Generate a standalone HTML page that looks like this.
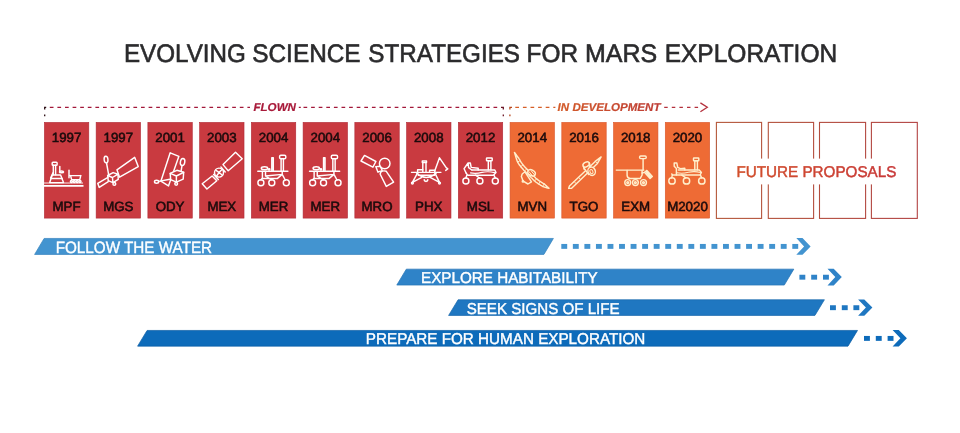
<!DOCTYPE html>
<html lang="en"><head><meta charset="utf-8"><title>Evolving Science Strategies for Mars Exploration</title>
<style>
html,body{margin:0;padding:0;background:#fff;}
body{width:960px;height:433px;overflow:hidden;font-family:"Liberation Sans",Arial,Helvetica,sans-serif;}
svg{display:block;}
svg text{font-family:"Liberation Sans",Arial,Helvetica,sans-serif;text-rendering:geometricPrecision;}
.ic{fill:none;stroke:#fff;stroke-width:1.45;stroke-linecap:round;stroke-linejoin:round;}
.yr{font-size:13.3px;fill:#1c0b0c;stroke:#1c0b0c;stroke-width:0.55px;text-anchor:middle;}
.bar{font-size:15px;fill:#fff;}
</style></head><body>
<svg width="960" height="433" viewBox="0 0 960 433">
<defs>
<linearGradient id="gdev" gradientUnits="userSpaceOnUse" x1="545" y1="0" x2="690" y2="0"><stop offset="0" stop-color="#d65f28"/><stop offset="1" stop-color="#b8343a"/></linearGradient>
<linearGradient id="gfut" gradientUnits="userSpaceOnUse" x1="716" y1="0" x2="917" y2="0"><stop offset="0" stop-color="#b4583a"/><stop offset="1" stop-color="#b24242"/></linearGradient>
<linearGradient id="gfutt" gradientUnits="userSpaceOnUse" x1="737" y1="0" x2="896" y2="0"><stop offset="0" stop-color="#d24f2b"/><stop offset="1" stop-color="#c83838"/></linearGradient>
</defs>
<rect width="960" height="433" fill="#fff"/>
<text y="62" font-size="25.3" fill="#2b2b2d" stroke="#2b2b2d" stroke-width="0.6"><tspan x="123.97" textLength="121.81" lengthAdjust="spacingAndGlyphs">EVOLVING</tspan> <tspan x="252.29" textLength="108.27" lengthAdjust="spacingAndGlyphs">SCIENCE</tspan> <tspan x="368.34" textLength="151.66" lengthAdjust="spacingAndGlyphs">STRATEGIES</tspan> <tspan x="526.58" textLength="51.41" lengthAdjust="spacingAndGlyphs">FOR</tspan> <tspan x="585.03" textLength="72.16" lengthAdjust="spacingAndGlyphs">MARS</tspan> <tspan x="664.63" textLength="172.59" lengthAdjust="spacingAndGlyphs">EXPLORATION</tspan></text>
<g fill="none" stroke-width="1.15">
<path d="M49.8 107.3H250" stroke="#a3183a" stroke-dasharray="3.7 3.9"/>
<path d="M298.8 107.3H300.8M303.5 107.3H497.5" stroke="#a3183a" stroke-dasharray="3.7 3.9"/>
<path d="M44.7 109.4V107.3H46.2M44.7 114.4V116.3" stroke="#2a0c12" stroke-width="1.3"/>
<path d="M501 107.3H503.3V109.4M503.3 114.4V116.3" stroke="#6a1424" stroke-width="1.3"/>
<path d="M512 107.3H509.9V109.4M509.9 114.4V116.3" stroke="#b8481e" stroke-width="1.3"/>
<path d="M515.3 107.3H555.4" stroke="url(#gdev)" stroke-dasharray="3.7 3.9"/>
<path d="M664.2 107.3H699" stroke="#b4303c" stroke-dasharray="3.5 4.1"/>
<path d="M700.4 102.9L707.3 107.3L700.4 111.7" stroke="#b4303c" stroke-width="1.3" stroke-linejoin="miter"/>
</g>
<text x="253.41" y="111.3" font-size="11.4" fill="#a81a3a" stroke="#a81a3a" stroke-width="0.2" textLength="42.6" lengthAdjust="spacingAndGlyphs" font-weight="bold" font-style="italic">FLOWN</text>
<text x="557.61" y="111.3" font-size="11.4" fill="url(#gdev)" stroke="url(#gdev)" stroke-width="0.2" textLength="102.89" lengthAdjust="spacingAndGlyphs" font-weight="bold" font-style="italic">IN DEVELOPMENT</text>
<rect x="44.40" y="122.39999999999999" width="44.4" height="95.7" fill="#c93a40" stroke="#b02a36" stroke-width="0.6"/>
<rect x="96.14" y="122.39999999999999" width="44.4" height="95.7" fill="#c93a40" stroke="#b02a36" stroke-width="0.6"/>
<rect x="147.88" y="122.39999999999999" width="44.4" height="95.7" fill="#c93a40" stroke="#b02a36" stroke-width="0.6"/>
<rect x="199.62" y="122.39999999999999" width="44.4" height="95.7" fill="#c93a40" stroke="#b02a36" stroke-width="0.6"/>
<rect x="251.36" y="122.39999999999999" width="44.4" height="95.7" fill="#c93a40" stroke="#b02a36" stroke-width="0.6"/>
<rect x="303.10" y="122.39999999999999" width="44.4" height="95.7" fill="#c93a40" stroke="#b02a36" stroke-width="0.6"/>
<rect x="354.84" y="122.39999999999999" width="44.4" height="95.7" fill="#c93a40" stroke="#b02a36" stroke-width="0.6"/>
<rect x="406.58" y="122.39999999999999" width="44.4" height="95.7" fill="#c93a40" stroke="#b02a36" stroke-width="0.6"/>
<rect x="458.32" y="122.39999999999999" width="44.4" height="95.7" fill="#c93a40" stroke="#b02a36" stroke-width="0.6"/>
<rect x="510.06" y="122.39999999999999" width="44.4" height="95.7" fill="#ee6b35" stroke="#d9552a" stroke-width="0.6"/>
<rect x="561.80" y="122.39999999999999" width="44.4" height="95.7" fill="#ee6b35" stroke="#d9552a" stroke-width="0.6"/>
<rect x="613.54" y="122.39999999999999" width="44.4" height="95.7" fill="#ee6b35" stroke="#d9552a" stroke-width="0.6"/>
<rect x="665.28" y="122.39999999999999" width="44.4" height="95.7" fill="#ee6b35" stroke="#d9552a" stroke-width="0.6"/>
<rect x="716.4" y="122.4" width="45.2" height="96" fill="none" stroke="url(#gfut)" stroke-width="1.1"/>
<rect x="768.3" y="122.4" width="45.3" height="96" fill="none" stroke="url(#gfut)" stroke-width="1.1"/>
<rect x="819.5" y="122.4" width="46.1" height="96" fill="none" stroke="url(#gfut)" stroke-width="1.1"/>
<rect x="871.4" y="122.4" width="45.9" height="96" fill="none" stroke="url(#gfut)" stroke-width="1.1"/>
<rect x="731" y="158.6" width="172" height="25.8" fill="#fff"/>
<text x="736.47" y="176.6" font-size="15.6" fill="url(#gfutt)" stroke="url(#gfutt)" stroke-width="0.45" textLength="159.86" lengthAdjust="spacingAndGlyphs">FUTURE PROPOSALS</text>
<text class="yr" x="66.60" y="141.6">1997</text><text class="yr" x="66.60" y="211.3">MPF</text>
<text class="yr" x="118.34" y="141.6">1997</text><text class="yr" x="118.34" y="211.3">MGS</text>
<text class="yr" x="170.08" y="141.6">2001</text><text class="yr" x="170.08" y="211.3">ODY</text>
<text class="yr" x="221.82" y="141.6">2003</text><text class="yr" x="221.82" y="211.3">MEX</text>
<text class="yr" x="273.56" y="141.6">2004</text><text class="yr" x="273.56" y="211.3">MER</text>
<text class="yr" x="325.30" y="141.6">2004</text><text class="yr" x="325.30" y="211.3">MER</text>
<text class="yr" x="377.04" y="141.6">2006</text><text class="yr" x="377.04" y="211.3">MRO</text>
<text class="yr" x="428.78" y="141.6">2008</text><text class="yr" x="428.78" y="211.3">PHX</text>
<text class="yr" x="480.52" y="141.6">2012</text><text class="yr" x="480.52" y="211.3">MSL</text>
<text class="yr" x="532.26" y="141.6">2014</text><text class="yr" x="532.26" y="211.3">MVN</text>
<text class="yr" x="584.00" y="141.6">2016</text><text class="yr" x="584.00" y="211.3">TGO</text>
<text class="yr" x="635.74" y="141.6">2018</text><text class="yr" x="635.74" y="211.3">EXM</text>
<text class="yr" x="687.48" y="141.6">2020</text><text class="yr" x="687.48" y="211.3">M2020</text>
<g class="ic" transform="translate(44.00 0)">
<path d="M0 183H39" stroke-width="0.9" stroke-linecap="butt"/>
<path d="M0 185.9H39.5" stroke-width="1.7" stroke-linecap="butt"/>
<rect x="8.2" y="162.3" width="4.9" height="2.9" rx="0.8"/>
<path d="M9.3 165.2V174.8M11.6 165.2V174.8"/>
<path d="M8.3 175H16.6L19.5 182.6H5.7Z"/>
<path d="M7 178.4H18.2M9 172.8L6.6 178"/>
<path d="M15.8 166.4V171.6"/>
<ellipse cx="17.5" cy="171.9" rx="2.1" ry="0.9"/>
<path d="M25 170.1V177.8M25 175.6H37M26.6 175.6L27.6 179.6H35.8L36.8 175.6"/>
<circle cx="27.4" cy="181.4" r="1"/><circle cx="30.3" cy="181.4" r="1"/><circle cx="33.2" cy="181.4" r="1"/><circle cx="36" cy="181.4" r="1"/>
</g>
<g class="ic" transform="translate(95.64 0)">
<ellipse cx="10.4" cy="159.6" rx="1.9" ry="3.3" transform="rotate(-6 10.4 159.6)"/>
<path d="M10.9 163L13 174.6"/>
<path d="M21.3 169.8L39 157.3L42.6 166.6L23.9 177.2Z"/>
<path d="M12 175.5L17.5 172.6L22.4 174.2L16.8 177.5ZM12 175.5L12.6 180.7L17.3 182.6L16.8 177.5M17.3 182.6L22.6 179.4L22.4 174.2"/>
<path d="M12.3 177.4L2.1 183.3L3.6 187.4L12.6 181.6"/>
<circle cx="18.7" cy="183.9" r="1.4"/>
</g>
<g class="ic" transform="translate(147.28 0)">
<path d="M22.9 152.8L31.6 156.3L21.2 185.9L13.6 181.2Z"/>
<path d="M11.4 181.4L22.6 179.2"/>
<ellipse cx="9.3" cy="181.8" rx="2.1" ry="1.5"/>
<path d="M22.9 173.4L29.6 170.3L36.4 172.3L35.9 179.1L29.1 182.2L23.4 179.6Z" fill="#c93a40"/>
<path d="M22.9 173.4L29.1 176L36.4 172.3M29.1 176V182.2"/>
<ellipse cx="35.3" cy="162" rx="2.2" ry="3.6" transform="rotate(10 35.3 162)"/>
<path d="M34.7 165.6L33.8 171.4"/>
<circle cx="28.9" cy="183.8" r="1.4"/>
</g>
<g class="ic" transform="translate(199.62 0)">
<path d="M23.4 164.6L35.9 152.3L42.6 158.8L28.6 170.8Z"/>
<path d="M2.6 183.8L12.5 176L17.2 180.7L7.3 189Z"/>
<path d="M21.3 167L25.6 171.9M14 174.4L18.7 179.6"/>
<circle cx="19.4" cy="172.6" r="4.5"/>
<path d="M16.2 170.2L22.6 175M22.4 169.6L19.4 172.6L17 176"/>
</g>
<g class="ic" transform="translate(251.00 0)">
<path d="M6.8 171.3H36.9" stroke-width="1.5"/>
<rect x="28.6" y="155.2" width="6.2" height="3.6" rx="1.3"/>
<path d="M30.1 158.8V170.8M32.4 158.8V170.8"/>
<path d="M20.8 170.5V157.8H22.3V170.5"/>
<ellipse cx="13.5" cy="168.2" rx="3.2" ry="1.5"/>
<circle cx="18.2" cy="169.4" r="0.7"/>
<path d="M11.4 171.5V178L9.9 180M14.5 171.5V176L31.2 174.4L34.3 180M31.2 171.5V174.4M14.5 176L20.8 179.8M12 178.4H26.5L31.2 174.4"/>
<circle cx="9.9" cy="182.7" r="3"/><circle cx="20.8" cy="182.7" r="3"/><circle cx="35.3" cy="182.7" r="3"/>
</g>
<g class="ic" transform="translate(302.74 0)">
<path d="M6.8 171.3H36.9" stroke-width="1.5"/>
<rect x="28.6" y="155.2" width="6.2" height="3.6" rx="1.3"/>
<path d="M30.1 158.8V170.8M32.4 158.8V170.8"/>
<path d="M20.8 170.5V157.8H22.3V170.5"/>
<ellipse cx="13.5" cy="168.2" rx="3.2" ry="1.5"/>
<circle cx="18.2" cy="169.4" r="0.7"/>
<path d="M11.4 171.5V178L9.9 180M14.5 171.5V176L31.2 174.4L34.3 180M31.2 171.5V174.4M14.5 176L20.8 179.8M12 178.4H26.5L31.2 174.4"/>
<circle cx="9.9" cy="182.7" r="3"/><circle cx="20.8" cy="182.7" r="3"/><circle cx="35.3" cy="182.7" r="3"/>
</g>
<g class="ic" transform="translate(354.60 0)">
<path d="M9.9 155.4L21.3 161.5L18.3 167.2L6.4 161Z"/>
<circle cx="30.1" cy="163.5" r="5.3"/>
<path d="M25.5 174L26.5 171.6Q29 170.3 31.7 171.3L39 182.2L31.7 186.4Z"/>
<path d="M21.2 166.6L25.6 166.2L27.6 170.4L23.4 172.2Z"/>
</g>
<g class="ic" transform="translate(406.20 0)">
<path d="M5.2 172.3H34.8" stroke-width="1.2"/>
<path d="M16.6 171.8V162.6H19.8V171.8M16.1 162.6V160.9H20.3V162.6Z"/>
<path d="M11.4 171.8V169.8H16.6M23.4 172V170.3H28.6V172"/>
<path d="M28.6 170.8L33.3 157.8L40 167.7L41.6 168.9L39.5 170.4"/>
<path d="M10.4 172.9Q20 182 30.1 172.9M12 175.2H28.4"/>
<path d="M11.4 172.9L6.2 182.4L15.6 177.3M28.6 172.9L33.3 182.4L23.9 177.3"/>
<circle cx="6.2" cy="183" r="0.9"/><circle cx="33.3" cy="183" r="0.9"/>
<path d="M18 179.6A1.8 1.8 0 0 0 21.6 179.6"/>
</g>
<g class="ic" transform="translate(458.00 0)">
<path d="M30.3 169.8V160.8H32.9V169.8"/>
<rect x="28.5" y="158" width="5.7" height="2.8" rx="0.5"/>
<path d="M14 170H36.8L38 172.6L35.4 175.2H9.6L8.2 173.2"/>
<path d="M12.5 172.9Q18 174 24 172.4Q30 171 36.5 172.6" stroke-width="1.1"/>
<path d="M10.1 163H12.3L13.2 167.4L20.2 168.3V170M10.1 163L6.1 168.7L8.2 173.2M10.1 163L10.6 167.6L13.8 170"/>
<path d="M8.8 175.2L7.9 178M17.5 175.2L21.5 178M36 175.2L37.3 178"/>
<circle cx="7.9" cy="181" r="3"/><circle cx="21.9" cy="181" r="3"/><circle cx="37.3" cy="181" r="3"/>
</g>
<g class="ic" transform="translate(509.56 0)"><g stroke="#ffefcc">
<path d="M11.8 176.6L12.6 174L15.4 171.8L21.9 181.8L18.4 184L13.6 181.2Z"/>
<circle cx="13.4" cy="181.4" r="0.7"/>
<path d="M4.9 152.4L5.1 153.0L5.3 153.6L5.4 154.1L5.6 154.7L5.8 155.3L6.0 155.9L6.1 156.5L6.3 157.1L6.5 157.7L6.7 158.3L6.9 158.9L7.1 159.5L7.3 160.1L7.5 160.7L7.7 161.4L8.1 162.0L8.4 162.6L8.7 163.2L9.1 163.8L9.5 164.4L9.9 165.0L10.3 165.6L10.8 166.1L11.2 166.7L11.7 167.2L12.1 167.8L12.6 168.3L13.1 168.8L13.5 169.3L14.0 169.9L14.5 170.4L15.0 171.0L15.6 171.5L16.1 172.1L16.6 172.6L17.2 173.1L17.7 173.7L18.3 174.2L18.8 174.8L19.4 175.3L19.9 175.9L20.5 176.5L21.1 177.1L21.7 177.7L22.4 178.3L23.0 179.0L23.6 179.6L24.2 180.1L24.8 180.7L25.4 181.2L25.9 181.7L26.4 182.1L27.0 182.5L27.5 182.8L27.9 183.2L28.4 183.5L28.9 183.8L29.4 184.1L29.8 184.4L30.3 184.7L30.8 185.0L31.3 185.4L31.9 185.7L32.4 186.0L32.9 186.3L33.4 186.6L34.0 186.8L34.5 186.9L35.0 187.1L35.5 187.3L36.0 187.4L36.4 187.5L36.8 187.7L37.2 187.8L37.6 187.9L37.9 187.9L38.3 188.0L38.6 188.1L39.0 188.2L39.4 188.3L39.2 188.1L38.9 187.8L38.6 187.6L38.4 187.3L38.1 187.0L37.8 186.8L37.5 186.5L37.2 186.2L36.9 185.9L36.6 185.6L36.2 185.3L35.8 184.9L35.4 184.6L35.0 184.2L34.5 183.9L34.0 183.6L33.5 183.3L33.0 183.0L32.5 182.7L32.0 182.4L31.5 182.0L31.0 181.7L30.6 181.4L30.1 181.2L29.7 180.9L29.2 180.6L28.8 180.2L28.3 179.9L27.9 179.5L27.4 179.1L26.9 178.7L26.3 178.2L25.7 177.6L25.2 177.1L24.6 176.5L24.0 175.8L23.3 175.2L22.7 174.6L22.1 174.0L21.6 173.4L21.0 172.9L20.4 172.3L19.9 171.8L19.4 171.2L18.8 170.7L18.3 170.1L17.8 169.6L17.3 169.1L16.8 168.6L16.3 168.1L15.8 167.5L15.3 167.0L14.9 166.5L14.4 166.0L14.0 165.5L13.5 165.0L13.1 164.4L12.7 163.9L12.4 163.4L12.0 162.9L11.6 162.4L11.3 161.9L11.0 161.3L10.7 160.8L10.4 160.2L10.1 159.6L9.7 159.1L9.4 158.5L9.0 158.0L8.6 157.5L8.2 157.0L7.8 156.5L7.5 156.0L7.1 155.5L6.8 155.0L6.4 154.5L6.1 154.0L5.7 153.5L5.3 153.0L5.0 152.5Z" fill="#ee6b35"/>
<path d="M8.1 162.0L10.6 160.6M11.2 166.7L13.4 164.8M15.0 171.0L17.1 169.0M25.1 180.9L27.0 178.8M29.1 184.0L30.7 181.5M33.2 186.4L34.6 183.9" stroke-width="0.9"/>
<ellipse cx="22" cy="172.8" rx="4" ry="2.7" transform="rotate(30 22 172.8)" fill="#ee6b35"/>
<path d="M19.4 171.6L23.6 176.6M21.6 170.8L25.2 175.2" stroke-width="1"/>
</g></g>
<g class="ic" transform="translate(561.24 0)"><g stroke="#ffefcc">
<path d="M7.4 188.4L8.2 186L34 161.4L39.9 156.9L36.2 163.4L10.4 188.2Z"/>
<path d="M34 161.4L36.2 163.4M13 181.6L14.8 183.6M17.4 177.4L19.2 179.4" stroke-width="0.9"/>
<path d="M22.4 167.4L27 164.6L31.6 170.4L27.4 174.6Z" fill="#ee6b35"/>
<ellipse cx="30.4" cy="171.2" rx="3.6" ry="4.3" transform="rotate(-25 30.4 171.2)" fill="#ee6b35"/>
<ellipse cx="30.2" cy="171.6" rx="1.4" ry="2.2" transform="rotate(-25 30.2 171.6)" stroke-width="1"/>
<ellipse cx="25" cy="164.4" rx="3.5" ry="2.3" transform="rotate(-28 25 164.4)" fill="#ee6b35"/>
<path d="M22.2 166.4L23 169.4M27.8 163L29 166"/>
</g></g>
<g class="ic" transform="translate(613.30 0)"><g stroke="#ffefcc">
<path d="M2.9 170.1H30.6" stroke-width="1.2"/>
<path d="M29.8 158.6V169.8"/>
<rect x="26.3" y="156" width="6.6" height="2.6" rx="1.1"/>
<path d="M13.8 170.4V175.4Q14 178.4 17 178.4H27L28.8 175V170.4"/>
<path d="M31.4 172.4L33.6 170.4L39 176.4L36.8 178.4ZM32.6 171.6L37.8 177.4"/>
<path d="M28.8 173L31.4 172.4"/>
<circle cx="14.4" cy="182.5" r="2.9"/><circle cx="22.1" cy="182.5" r="2.9"/><circle cx="30.2" cy="182.5" r="2.9"/>
<circle cx="14.4" cy="182.5" r="0.9"/><circle cx="22.1" cy="182.5" r="0.9"/><circle cx="30.2" cy="182.5" r="0.9"/>
</g></g>
<g class="ic" transform="translate(664.40 -0.1)"><g stroke="#ffefcc">
<path d="M30.4 169.8V160.8H33V169.8"/>
<rect x="29.1" y="158.1" width="5.3" height="2.7" rx="0.5"/>
<path d="M14 170H34.8L37 172.6L35.6 175.2H8L7.4 174"/>
<path d="M12.5 172.9Q18 174 24 172.4Q30 171 36 172.6" stroke-width="1.1"/>
<path d="M9.8 163H12.4L13.3 167.4L16 168.7L20.4 168.3V170M9.8 163V166.4L12 168.6V175"/>
<path d="M8 175.2L7.2 178M17.5 175.2L21.5 178M36 175.2L37.3 178"/>
<circle cx="7.6" cy="181" r="3.2"/><circle cx="22.1" cy="181" r="3.2"/><circle cx="37.4" cy="181" r="3.2"/>
</g></g>
<path d="M44.1 238.45H553.4L543.9 254.45000000000002H34.6Z" fill="#4394d0" stroke="#3583bd" stroke-width="0.7"/>
<rect x="561.30" y="243.95" width="5.9" height="4.9" fill="#4394d0"/><rect x="572.85" y="243.95" width="5.9" height="4.9" fill="#4394d0"/><rect x="584.40" y="243.95" width="5.9" height="4.9" fill="#4394d0"/><rect x="595.95" y="243.95" width="5.9" height="4.9" fill="#4394d0"/><rect x="607.50" y="243.95" width="5.9" height="4.9" fill="#4394d0"/><rect x="619.05" y="243.95" width="5.9" height="4.9" fill="#4394d0"/><rect x="630.60" y="243.95" width="5.9" height="4.9" fill="#4394d0"/><rect x="642.15" y="243.95" width="5.9" height="4.9" fill="#4394d0"/><rect x="653.70" y="243.95" width="5.9" height="4.9" fill="#4394d0"/><rect x="665.25" y="243.95" width="5.9" height="4.9" fill="#4394d0"/><rect x="676.80" y="243.95" width="5.9" height="4.9" fill="#4394d0"/><rect x="688.35" y="243.95" width="5.9" height="4.9" fill="#4394d0"/><rect x="699.90" y="243.95" width="5.9" height="4.9" fill="#4394d0"/><rect x="711.45" y="243.95" width="5.9" height="4.9" fill="#4394d0"/><rect x="723.00" y="243.95" width="5.9" height="4.9" fill="#4394d0"/><rect x="734.55" y="243.95" width="5.9" height="4.9" fill="#4394d0"/><rect x="746.10" y="243.95" width="5.9" height="4.9" fill="#4394d0"/><rect x="757.65" y="243.95" width="5.9" height="4.9" fill="#4394d0"/><rect x="769.20" y="243.95" width="5.9" height="4.9" fill="#4394d0"/><rect x="780.75" y="243.95" width="5.9" height="4.9" fill="#4394d0"/><rect x="792.30" y="243.95" width="5.9" height="4.9" fill="#4394d0"/>
<path d="M796.3 238.1H802.5L810.5999999999999 246.45L802.5 254.8H796.3L804.0999999999999 246.45Z" fill="#4394d0"/>
<text x="55.64" y="252.6" font-size="16.4" fill="#fff" stroke="#fff" stroke-width="0.4" textLength="156.52" lengthAdjust="spacingAndGlyphs">FOLLOW THE WATER</text>
<path d="M406.3 269.15000000000003H793.8L784.3 285.04999999999995H396.8Z" fill="#2f83c8" stroke="#2473b4" stroke-width="0.7"/>
<rect x="799.40" y="274.75" width="5.9" height="4.9" fill="#2f83c8"/><rect x="811.20" y="274.75" width="5.9" height="4.9" fill="#2f83c8"/><rect x="823.00" y="274.75" width="5.9" height="4.9" fill="#2f83c8"/>
<path d="M827.5 268.8H833.7L841.8 277.1L833.7 285.4H827.5L835.3 277.1Z" fill="#2f83c8"/>
<text x="421.0" y="282.85" font-size="15.7" fill="#fff" stroke="#fff" stroke-width="0.4" textLength="176.64" lengthAdjust="spacingAndGlyphs">EXPLORE HABITABILITY</text>
<path d="M458.1 299.75H824.4L814.9 315.45H448.6Z" fill="#1f77c1" stroke="#1767ab" stroke-width="0.7"/>
<rect x="830.00" y="305.25" width="5.9" height="4.9" fill="#1f77c1"/><rect x="841.80" y="305.25" width="5.9" height="4.9" fill="#1f77c1"/><rect x="853.40" y="305.25" width="5.9" height="4.9" fill="#1f77c1"/>
<path d="M858.1 299.4H864.3000000000001L872.4 307.6L864.3000000000001 315.8H858.1L865.9 307.6Z" fill="#1f77c1"/>
<text x="466.64" y="313.5" font-size="15.7" fill="#fff" stroke="#fff" stroke-width="0.4" textLength="152.95" lengthAdjust="spacingAndGlyphs">SEEK SIGNS OF LIFE</text>
<path d="M147.1 330.45000000000005H857.5L848.0 346.15H137.6Z" fill="#0d6bba" stroke="#0a5ca3" stroke-width="0.7"/>
<rect x="864.00" y="335.95" width="5.9" height="4.9" fill="#0d6bba"/><rect x="875.80" y="335.95" width="5.9" height="4.9" fill="#0d6bba"/><rect x="887.60" y="335.95" width="5.9" height="4.9" fill="#0d6bba"/>
<path d="M892.6 330.1H898.8000000000001L906.9 338.3L898.8000000000001 346.5H892.6L900.4 338.3Z" fill="#0d6bba"/>
<text x="365.86" y="344.1" font-size="15.7" fill="#fff" stroke="#fff" stroke-width="0.4" textLength="279.43" lengthAdjust="spacingAndGlyphs">PREPARE FOR HUMAN EXPLORATION</text>
</svg>
</body></html>
